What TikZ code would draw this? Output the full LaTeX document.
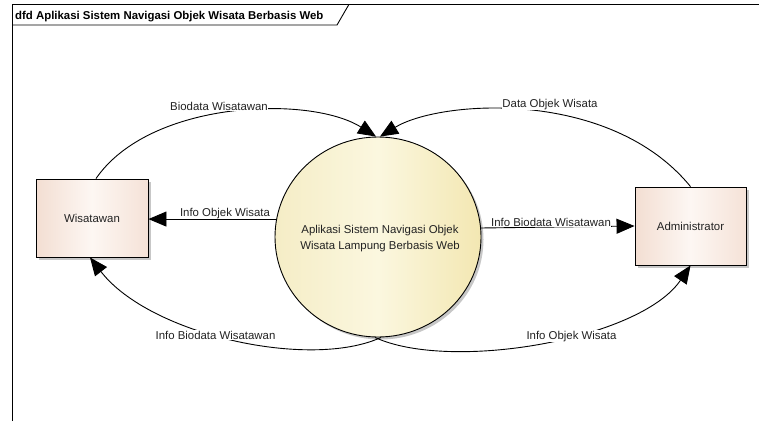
\documentclass[tikz,border=0pt]{standalone}
\usepackage{fontspec}
\setmainfont{Liberation Sans}
\usetikzlibrary{arrows.meta,shapes.geometric,shadows}
\definecolor{boxL}{RGB}{243,222,210}
\definecolor{boxM}{RGB}{253,247,243}
\definecolor{boxR}{RGB}{245,226,215}
\definecolor{procL}{RGB}{245,237,198}
\definecolor{procM}{RGB}{251,247,223}
\definecolor{procR}{RGB}{243,231,178}
\definecolor{txt}{RGB}{34,34,34}
\begin{document}
\begin{tikzpicture}[x=1pt,y=-1pt,
  every node/.style={font=\fontsize{11.4}{16}\selectfont, text=txt},
  softshadow/.style={drop shadow={shadow xshift=2.5pt,shadow yshift=-2.5pt,fill=black!22,opacity=1}},
  entity/.style={draw=black,line width=0.9pt,minimum width=112pt,minimum height=78pt,inner sep=0pt,
    left color=boxL,right color=boxR,middle color=boxM,softshadow},
  proc/.style={ellipse,draw=black,line width=0.9pt,minimum width=206pt,minimum height=200pt,inner sep=0pt,
    left color=procL,right color=procR,middle color=procM,softshadow},
  flow/.style={draw=black,line width=0.9pt,-{Triangle[length=18pt,width=15pt]}},
  lbl/.style={fill=white,inner sep=0.6pt,anchor=base},
  framestyle/.style={draw=black,line width=0.9pt}
]
\useasboundingbox (0,0) rectangle (759,421);
% frame
\draw[framestyle] (12,421) -- (12,4.3) -- (759,4.3);
\draw[framestyle] (12,25) -- (337,25) -- (349,4.3);
\node[anchor=base west,inner sep=0pt,text=black,font=\bfseries\fontsize{11.4}{13}\selectfont] (hdr) at (15,19.5) {dfd Aplikasi Sistem Navigasi Objek Wisata Berbasis Web};

% nodes
\node[entity] (W) at (92,218) {Wisatawan};
\node[entity,minimum width=111pt] (A) at (690.5,226) {Administrator};
\node[proc] (P) at (378,237) {};
\node[align=center,inner sep=0pt] (Ptxt) at (380,239) {Aplikasi Sistem Navigasi Objek\\Wisata Lampung Berbasis Web};

% flows
\draw[flow] ([xshift=4pt]W.north) .. controls (150,100) and (310,95) .. ([xshift=-2pt]P.north);
\draw[flow] (A.north) .. controls (610,88) and (440,100) .. ([xshift=2pt]P.north);
\draw[flow] (P.170) -- (P.170 -| W.east);
\draw[flow] (P.5) -- (A.west);
\draw[flow] ([xshift=3pt]P.south) .. controls (310,370) and (150,335) .. ([xshift=-2pt]W.south);
\draw[flow] ([xshift=-3pt]P.south) .. controls (450,372) and (640,340) .. (A.south);

% labels
\node[lbl] (l1) at (219,110.7) {Biodata Wisatawan};
\node[lbl] (l2) at (550,107.3) {Data Objek Wisata};
\node[lbl] (l3) at (225,216) {Info Objek Wisata};
\node[lbl] (l4) at (551,226) {Info Biodata Wisatawan};
\node[lbl] (l5) at (215.5,339.3) {Info Biodata Wisatawan};
\node[lbl] (l6) at (571.5,339.3) {Info Objek Wisata};
\end{tikzpicture}
\end{document}
